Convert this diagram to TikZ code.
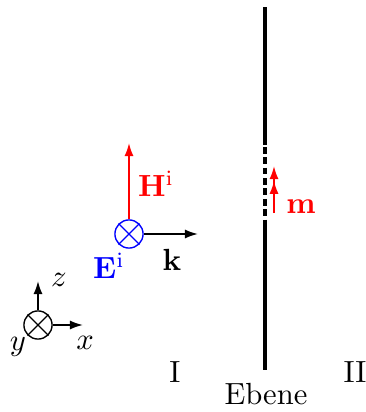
\documentclass[tikz,border=0pt]{standalone}
\usetikzlibrary{arrows.meta}
\begin{document}
\begin{tikzpicture}[x=0.3268pt,y=-0.3268pt,
  tip/.style={-{Latex[length=4.3pt,width=3pt]}},
  vec/.style={line width=0.6pt,tip},
  wall/.style={line width=1pt},
  crossc/.style={circle,draw,line width=0.45pt,minimum size=9.2pt,inner sep=0pt},
  lbl/.style={inner sep=0pt}]
\useasboundingbox (0,0) rectangle (365,412);
% plane
\coordinate (top) at (265,7);
\coordinate (d1) at (265,145);
\coordinate (d2) at (265,224);
\coordinate (bot) at (265,370);
\draw[wall] (top) -- (d1);
\draw[wall,dash pattern=on 2.2pt off 1.2pt,dash phase=-0.6pt] (d1) -- (d2);
\draw[wall] (d2) -- (bot);
% magnetic dipole m
\coordinate (m0) at (274,213);
\coordinate (m1) at (274,166);
\draw[red,line width=0.6pt,-{Latex[length=4.3pt,width=3pt,sep=0.5pt]Latex[length=4.3pt,width=3pt]}] (m0) -- (m1);
\node[lbl,red] (mlab) at (301,207) {$\mathbf{m}$};
% incident field
\node[crossc,blue] (E) at (129,234) {};
\draw[blue,line width=0.45pt] (E.north west) -- (E.south east) (E.north east) -- (E.south west);
\coordinate (Htip) at (129,143);
\draw[vec,red] (E.north) -- (Htip);
\node[lbl,red] (Hlab) at (156,184) {$\mathbf{H}^\mathrm{i}$};
\coordinate (ktip) at (198,234);
\draw[vec,black] (E.east) -- (ktip);
\node[lbl] (klab) at (172,260) {$\mathbf{k}$};
\node[lbl,blue] (Elab) at (109,266) {$\mathbf{E}^\mathrm{i}$};
% axes
\node[crossc] (O) at (38,325) {};
\draw[line width=0.45pt] (O.north west) -- (O.south east) (O.north east) -- (O.south west);
\coordinate (ztip) at (38,281);
\coordinate (xtip) at (83,325);
\draw[vec] (O.north) -- (ztip);
\draw[vec] (O.east) -- (xtip);
\node[lbl] (zlab) at (59,280) {$z$};
\node[lbl] (xlab) at (85,343) {$x$};
\node[lbl] (ylab) at (18,347) {$y$};
% region labels
\node[lbl] (I) at (175,372) {I};
\node[lbl] (II) at (355,372) {II};
\node[lbl] (eb) at (266,394) {Ebene};
\end{tikzpicture}
\end{document}
